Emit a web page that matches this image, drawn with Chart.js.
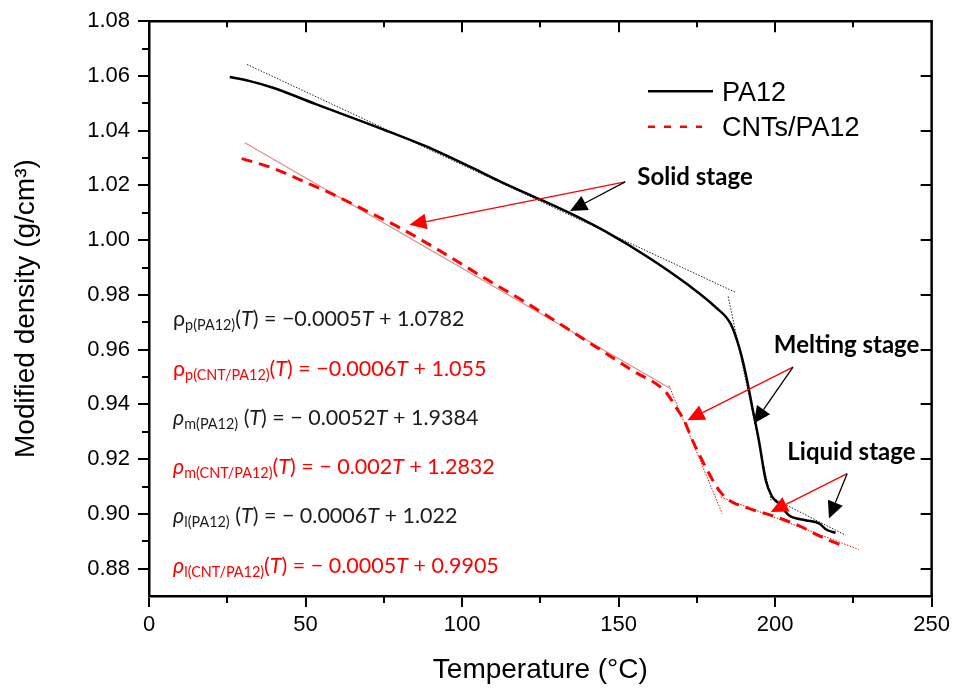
<!DOCTYPE html>
<html><head><meta charset="utf-8">
<script src="https://cdn.jsdelivr.net/npm/chart.js@4/dist/chart.umd.min.js"></script>
<style>html,body{margin:0;padding:0;background:#fff}#wrap{width:955px;height:690px}</style>
</head><body><div id="wrap"><canvas id="c" width="955" height="690"></canvas></div>
<script>
// ---------- data ----------
const pa12T   = [25.8, 32.2, 39.6, 53.5, 74.7, 90.7, 103.5, 111.9, 124.7, 135.3, 145.9, 159.8, 172.5, 181.0, 185.8, 188.5, 190.6, 192.7, 194.8, 197.0, 199.1, 201.2, 204.4, 209.7, 214.0, 216.6, 219.3];
const pa12Rho = [1.0596, 1.0581, 1.0557, 1.0496, 1.0405, 1.0332, 1.0263, 1.0216, 1.0150, 1.0094, 1.0031, 0.9935, 0.9834, 0.9755, 0.9694, 0.9609, 0.9512, 0.9390, 0.9269, 0.9123, 0.9062, 0.9038, 0.8995, 0.8977, 0.8965, 0.8941, 0.8931];
const cntT    = [29.6, 39.6, 50.3, 58.8, 69.4, 80.0, 93.8, 107.7, 120.4, 133.2, 145.9, 154.4, 165.1, 168.3, 170.9, 173.6, 177.8, 182.1, 185.3, 191.6, 198.7, 207.2, 215.9, 222.5];
const cntRho  = [1.0298, 1.0263, 1.0210, 1.0167, 1.0107, 1.0046, 0.9955, 0.9858, 0.9772, 0.9680, 0.9587, 0.9524, 0.9445, 0.9390, 0.9342, 0.9269, 0.9171, 0.9086, 0.9050, 0.9020, 0.8995, 0.8959, 0.8910, 0.8880];

// fitted straight lines (end points)
const fitPA12SolidT = [31.3, 187.4],   fitPA12SolidRho = [1.0642, 0.9809];
const fitPA12MeltT  = [185.0, 198.7],  fitPA12MeltRho  = [0.9794, 0.9050];
const fitPA12LiqT   = [198.5, 222.5],  fitPA12LiqRho   = [0.9062, 0.8922];
const fitCNTSolidT  = [30.6, 166.7],   fitCNTSolidRho  = [1.0356, 0.9457];
const fitCNTMeltT   = [166.1, 183.1],  fitCNTMeltRho   = [0.9469, 0.9001];
const fitCNTLiqT    = [182.6, 226.7],  fitCNTLiqRho    = [0.9062, 0.8870];

const seriesNames = ['PA12', 'CNTs/PA12'];
const xMin = 0, xMax = 250, xStep = 25, xLabelStep = 50;
const yMin = 0.87, yMax = 1.08, yStep = 0.01;

// stage annotations (data coordinates: T, density)
const stageNames      = ['Solid stage', 'Melting stage', 'Liquid stage'];
const stageTextAt     = [[156.0, 1.0202], [199.6, 0.9587], [203.9, 0.9196]];
const stageArrowFrom  = [[152.1, 1.0213], [205.7, 0.9536], [223.0, 0.9147]];
const stageArrowCNT   = [[83.2, 1.0056], [172.0, 0.9342], [198.6, 0.9007]];
const stageArrowPA12  = [[134.5, 1.0107], [193.2, 0.9330], [217.2, 0.8983]];

// equations
const eqSub       = ['p(PA12)', 'p(CNT/PA12)', 'm(PA12)', 'm(CNT/PA12)', 'l(PA12)', 'l(CNT/PA12)'];
const eqSpaceT    = [false, false, true, false, true, false];
const eqRhoItalic = [false, false, true, true, true, true];
const eqSlope     = ['−0.0005', '−0.0006', '− 0.0052', '− 0.002', '− 0.0006', '− 0.0005'];
const eqIntercept = ['1.0782', '1.055', '1.9384', '1.2832', '1.022', '0.9905'];
const eqIsCNT     = [false, true, false, true, false, true];

// ---------- styles ----------
const BLACK = '#000000', RED = '#ff0000', PINK = '#e58a8a', TXT = '#1c1c1c';
const AX_FONT = "'Liberation Sans', Arial, sans-serif";
const EQ_FONT = "Lato, 'Open Sans', sans-serif";

const pts = (xs, ys) => xs.map((x, i) => ({x, y: ys[i]}));
const fit = (xs, ys, color, dash, w) => ({data: pts(xs, ys), borderColor: color, borderWidth: w, borderDash: dash, pointRadius: 0, fill: false, tension: 0});

const isMajorY = v => Math.round(v * 100) % 2 === 0;
const isMajorX = v => Math.round(v) % xLabelStep === 0;

const decor = {
  id: 'decor',
  afterDatasetsDraw(chart) {
    const {ctx, chartArea: a, scales: {x, y}} = chart;
    ctx.save();
    // frame top & right
    ctx.strokeStyle = BLACK; ctx.lineWidth = 2.5; ctx.setLineDash([]);
    ctx.beginPath();
    ctx.moveTo(a.left - 1, a.top); ctx.lineTo(a.right, a.top); ctx.lineTo(a.right, a.bottom + 1);
    ctx.stroke();
    // minor/extra ticks
    ctx.lineWidth = 2;
    ctx.beginPath();
    for (let v = xMin; v <= xMax + 1e-9; v += xStep) {
      const px = Math.round(x.getPixelForValue(v));
      const major = isMajorX(v);
      if (!major) { ctx.moveTo(px, a.bottom); ctx.lineTo(px, a.bottom + 7); }
      if (v > xMin && v < xMax) { ctx.moveTo(px, a.top); ctx.lineTo(px, a.top + (major ? 11 : 6)); }
    }
    const nY = Math.round((yMax - yMin) / yStep);
    for (let k = 0; k <= nY; k++) {
      const v = yMin + k * yStep;
      const py = Math.round(y.getPixelForValue(v));
      if (!isMajorY(v)) { if (k > 0) { ctx.moveTo(a.left, py); ctx.lineTo(a.left - 7, py); } }
      else if (k < nY) { ctx.moveTo(a.right, py); ctx.lineTo(a.right - 11, py); }
    }
    ctx.stroke();

    // legend
    const lx = a.left + 499, ly1 = a.top + 70, ly2 = a.top + 105.5;
    ctx.lineWidth = 2.5; ctx.strokeStyle = BLACK; ctx.setLineDash([]);
    ctx.beginPath(); ctx.moveTo(lx, ly1); ctx.lineTo(lx + 65, ly1); ctx.stroke();
    ctx.strokeStyle = RED; ctx.setLineDash([7, 9]);
    ctx.beginPath(); ctx.moveTo(lx, ly2); ctx.lineTo(lx + 54, ly2); ctx.stroke();
    ctx.setLineDash([]);
    ctx.fillStyle = BLACK; ctx.font = `27px ${AX_FONT}`; ctx.textBaseline = 'alphabetic'; ctx.textAlign = 'left';
    ctx.fillText(seriesNames[0], lx + 74, ly1 + 10);
    ctx.fillText(seriesNames[1], lx + 74, ly2 + 9.5);

    // arrows
    const P = p => [x.getPixelForValue(p[0]), y.getPixelForValue(p[1])];
    const arrow = (from, to, color) => {
      const [x0, y0] = P(from), [x1, y1] = P(to);
      const ang = Math.atan2(y1 - y0, x1 - x0), L = 17, W = 8;
      const bx = x1 - L * Math.cos(ang), by = y1 - L * Math.sin(ang);
      ctx.strokeStyle = color; ctx.fillStyle = color; ctx.lineWidth = 1.3;
      ctx.beginPath(); ctx.moveTo(x0, y0); ctx.lineTo(bx, by); ctx.stroke();
      ctx.beginPath(); ctx.moveTo(x1, y1);
      ctx.lineTo(bx + W * Math.sin(ang), by - W * Math.cos(ang));
      ctx.lineTo(bx - W * Math.sin(ang), by + W * Math.cos(ang));
      ctx.closePath(); ctx.fill();
    };
    for (let i = 0; i < stageNames.length; i++) {
      arrow(stageArrowFrom[i], stageArrowCNT[i], RED);
      arrow(stageArrowFrom[i], stageArrowPA12[i], BLACK);
      const [tx, ty] = P(stageTextAt[i]);
      ctx.fillStyle = BLACK; ctx.font = `bold 24px ${EQ_FONT}`; ctx.textAlign = 'left'; ctx.textBaseline = 'alphabetic';
      ctx.fillText(stageNames[i], tx, ty);
    }

    // equations
    const ex = a.left + 24;
    for (let i = 0; i < eqSub.length; i++) {
      const base = a.top + 305 + i * 49.3;
      const color = eqIsCNT[i] ? RED : TXT;
      const segs = [
        {t: 'ρ', it: eqRhoItalic[i]},
        {t: eqSub[i], sub: true},
        {t: (eqSpaceT[i] ? ' (' : '(')},
        {t: 'T', it: true},
        {t: ') = ' + eqSlope[i]},
        {t: 'T', it: true},
        {t: ' + ' + eqIntercept[i]}
      ];
      let cx = ex;
      ctx.fillStyle = color; ctx.textAlign = 'left'; ctx.textBaseline = 'alphabetic';
      for (const s of segs) {
        ctx.font = `${s.it ? 'italic ' : ''}${s.sub ? 14.4 : 21.5}px ${EQ_FONT}`;
        ctx.fillText(s.t, cx, base + (s.sub ? 4 : 0));
        cx += ctx.measureText(s.t).width;
      }
    }
    ctx.restore();
  }
};

new Chart(document.getElementById('c'), {
  type: 'line',
  data: {
    datasets: [
      {label: seriesNames[0], data: pts(pa12T, pa12Rho), borderColor: BLACK, borderWidth: 2.5, pointRadius: 0, fill: false, cubicInterpolationMode: 'monotone'},
      {label: seriesNames[1], data: pts(cntT, cntRho), borderColor: RED, borderWidth: 3, borderDash: [11, 7], pointRadius: 0, fill: false, cubicInterpolationMode: 'monotone'},
      fit(fitPA12SolidT, fitPA12SolidRho, '#222', [1.5, 1.5], 1),
      fit(fitPA12MeltT, fitPA12MeltRho, '#222', [1.5, 1.5], 1),
      fit(fitPA12LiqT, fitPA12LiqRho, '#222', [1.5, 1.5], 1),
      fit(fitCNTSolidT, fitCNTSolidRho, PINK, [], 1.2),
      fit(fitCNTMeltT, fitCNTMeltRho, RED, [1.5, 1.5], 1),
      fit(fitCNTLiqT, fitCNTLiqRho, RED, [1.5, 1.5], 1)
    ]
  },
  options: {
    responsive: false, animation: false,
    layout: {padding: {top: 20, right: 22, left: 0, bottom: 0}},
    plugins: {legend: {display: false}, tooltip: {enabled: false}},
    scales: {
      x: {
        type: 'linear', position: 'bottom', min: xMin, max: xMax,
        afterFit(s) { s.height = 94; },
        ticks: {stepSize: xStep, autoSkip: false, maxRotation: 0, padding: 5,
          font: {family: AX_FONT, size: 22}, color: BLACK,
          callback: v => isMajorX(v) ? String(v) : ''},
        grid: {drawOnChartArea: false, drawTicks: true, tickLength: 11, lineWidth: 2,
          color: c => (c.tick && isMajorX(c.tick.value)) ? BLACK : 'rgba(0,0,0,0)'},
        border: {display: true, color: BLACK, width: 2.5},
        title: {display: true, text: 'Temperature (°C)', color: BLACK,
          font: {family: AX_FONT, size: 28}, padding: {top: 0, bottom: 3}}
      },
      y: {
        type: 'linear', min: yMin, max: yMax,
        afterFit(s) { s.width = 149; },
        ticks: {stepSize: yStep, autoSkip: false, padding: 8,
          font: {family: AX_FONT, size: 22}, color: BLACK,
          callback: v => isMajorY(v) ? Number(v).toFixed(2) : ''},
        grid: {drawOnChartArea: false, drawTicks: true, tickLength: 11, lineWidth: 2,
          color: c => (c.tick && isMajorY(c.tick.value)) ? BLACK : 'rgba(0,0,0,0)'},
        border: {display: true, color: BLACK, width: 2.5},
        title: {display: true, text: 'Modified density (g/cm³)', color: BLACK,
          font: {family: AX_FONT, size: 28}, padding: {top: 9, bottom: 0}}
      }
    }
  },
  plugins: [decor]
});
</script>
</body></html>
